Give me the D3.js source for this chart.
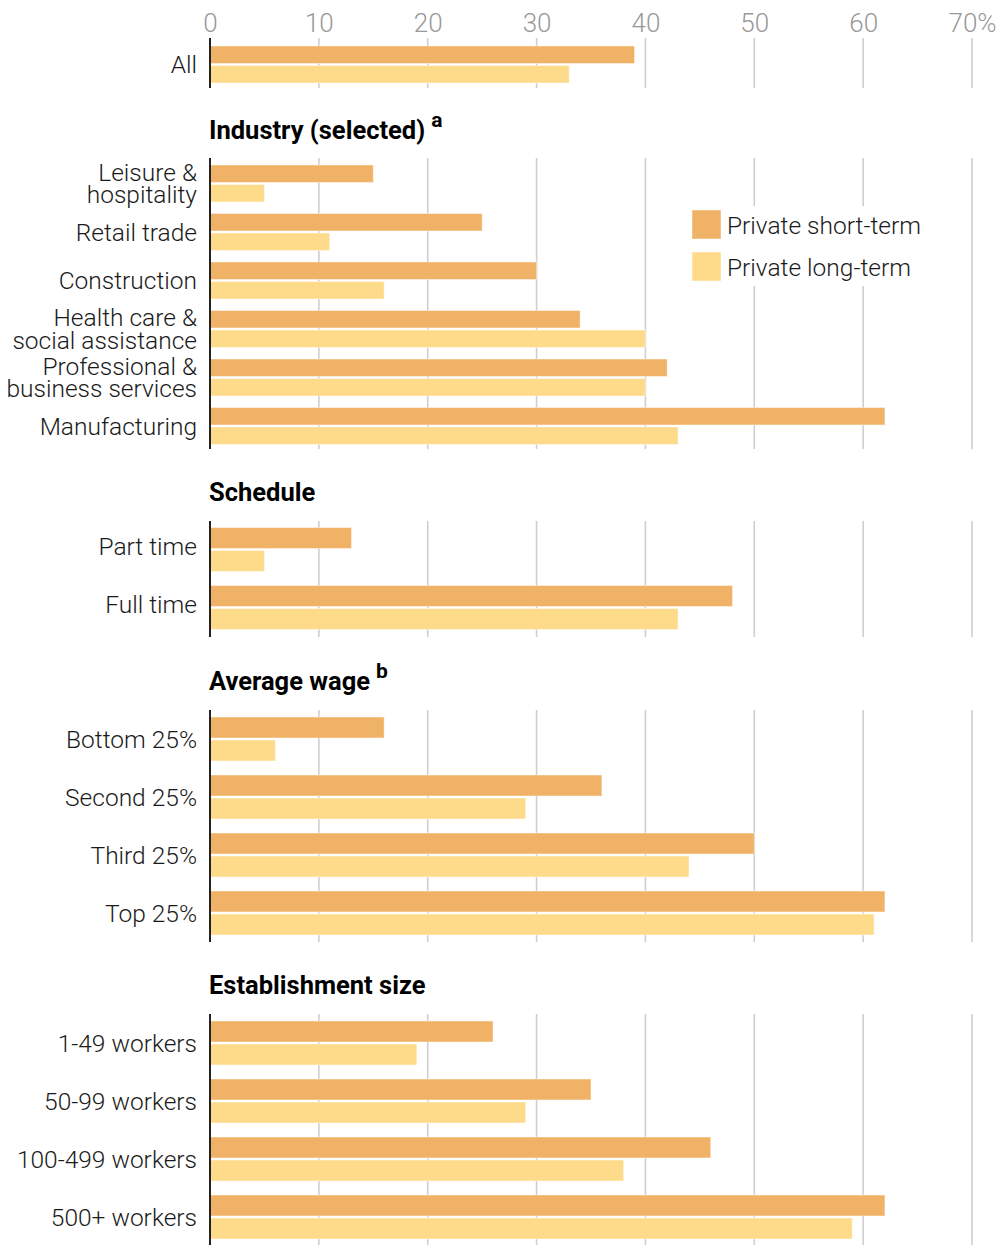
<!DOCTYPE html>
<html>
<head>
<meta charset="utf-8">
<script src="https://cdn.jsdelivr.net/npm/d3@7"></script>
<style>
  html, body { margin: 0; padding: 0; background: #fff; }
  svg { display: block; }
  .lbl { font-family: Roboto, sans-serif; font-weight: 300; fill: #1a1a1a; }
  .ttl { font-family: Roboto, sans-serif; font-weight: 700; fill: #000; }
  .tick text { font-family: Roboto, sans-serif; font-weight: 300; fill: #999; }
</style>
</head>
<body>
<svg id="chart" width="1000" height="1245"></svg>
<script>
// ---------------- data ----------------
const seriesNames = ["Private short-term", "Private long-term"];
const seriesColors = ["#f0b266", "#fedb8a"];

const tickValues = [0, 10, 20, 30, 40, 50, 60, 70];
const tickLabels = ["0", "10", "20", "30", "40", "50", "60", "70%"];

const allCategories = ["All"];
const allShort = [39];
const allLong = [33];

const industryTitle = "Industry (selected)";
const industryCategories = ["Leisure &\nhospitality", "Retail trade", "Construction",
  "Health care &\nsocial assistance", "Professional &\nbusiness services", "Manufacturing"];
const industryShort = [15, 25, 30, 34, 42, 62];
const industryLong = [5, 11, 16, 40, 40, 43];

const scheduleTitle = "Schedule";
const scheduleCategories = ["Part time", "Full time"];
const scheduleShort = [13, 48];
const scheduleLong = [5, 43];

const wageTitle = "Average wage";
const wageCategories = ["Bottom 25%", "Second 25%", "Third 25%", "Top 25%"];
const wageShort = [16, 36, 50, 62];
const wageLong = [6, 29, 44, 61];

const sizeTitle = "Establishment size";
const sizeCategories = ["1-49 workers", "50-99 workers", "100-499 workers", "500+ workers"];
const sizeShort = [26, 35, 46, 62];
const sizeLong = [19, 29, 38, 59];

// ---------------- layout ----------------
const svg = d3.select("#chart");
const x = d3.scaleLinear().domain([0, 70]).range([210, 972]);

const panels = [
  { title: null, sup: null, cats: allCategories, s: allShort, l: allLong, top: 38, step: 50, barH: 17.5, off: 8, titleY: null, lblShift: 0 },
  { title: industryTitle, sup: "a", cats: industryCategories, s: industryShort, l: industryLong, top: 158, step: 48.5, barH: 17.5, off: 7, titleY: 139, lblShift: 0 },
  { title: scheduleTitle, sup: null, cats: scheduleCategories, s: scheduleShort, l: scheduleLong, top: 521, step: 58, barH: 21, off: 6.5, titleY: 501, lblShift: -3 },
  { title: wageTitle, sup: "b", cats: wageCategories, s: wageShort, l: wageLong, top: 710, step: 58, barH: 21, off: 7, titleY: 690, lblShift: 0 },
  { title: sizeTitle, sup: null, cats: sizeCategories, s: sizeShort, l: sizeLong, top: 1014, step: 58, barH: 21, off: 7, titleY: 994, lblShift: 0 }
];

// top axis tick labels
const axis = d3.axisTop(x).tickValues(tickValues).tickSize(0).tickPadding(0)
  .tickFormat((d, i) => tickLabels[i]);
const axG = svg.append("g").attr("class", "axis").attr("transform", "translate(0,32)").call(axis);
axG.select(".domain").remove();
axG.selectAll(".tick text").attr("font-size", 26).attr("dy", 0);

panels.forEach(p => {
  const bottom = p.top + p.cats.length * p.step;
  const g = svg.append("g");

  // gridlines
  g.selectAll("line.grid").data(tickValues.slice(1)).join("line")
    .attr("class", "grid")
    .attr("x1", d => x(d)).attr("x2", d => x(d))
    .attr("y1", p.top).attr("y2", bottom)
    .attr("stroke", "#cfcfcf").attr("stroke-width", 1.6);

  const yBand = d3.scaleBand().domain(p.cats).range([p.top, bottom]).padding(0);
  const ySub = d3.scaleBand().domain(seriesNames)
    .range([p.off, p.off + 2 * p.barH + 2]).paddingInner(2 / (p.barH + 2)).paddingOuter(0);

  const rows = p.cats.map((c, i) => ({ c, vals: [p.s[i], p.l[i]] }));
  const rowG = g.selectAll("g.row").data(rows).join("g")
    .attr("class", "row")
    .attr("transform", d => `translate(0,${yBand(d.c)})`);

  rowG.selectAll("rect").data(d => d.vals.map((v, k) => ({ v, k }))).join("rect")
    .attr("x", x(0))
    .attr("y", d => ySub(seriesNames[d.k]))
    .attr("width", d => x(d.v) - x(0))
    .attr("height", ySub.bandwidth())
    .attr("fill", d => seriesColors[d.k])
    .attr("stroke", "rgba(255,255,255,0.45)").attr("stroke-width", 1);

  // category labels
  rowG.each(function (d) {
    const lines = d.c.split("\n");
    const cy = p.off + p.barH + 1 + p.lblShift;
    const lh = 22.5;
    const t = d3.select(this).append("text").attr("class", "lbl")
      .attr("font-size", 24.5).attr("text-anchor", "end");
    lines.forEach((ln, j) => {
      t.append("tspan").attr("x", 197)
        .attr("y", cy + (j - (lines.length - 1) / 2) * lh)
        .attr("dy", "0.35em").text(ln);
    });
  });

  // left axis line
  g.append("line").attr("x1", x(0)).attr("x2", x(0))
    .attr("y1", p.top).attr("y2", bottom)
    .attr("stroke", "#222").attr("stroke-width", 2);

  if (p.title) {
    const tt = svg.append("text").attr("class", "ttl").attr("x", 209).attr("y", p.titleY)
      .attr("font-size", 25.5).text(p.title);
    if (p.sup) {
      tt.append("tspan").attr("dx", 6).attr("dy", -12).attr("font-size", 21).text(p.sup);
    }
  }
});

// legend (inside Industry panel)
const lg = svg.append("g").attr("transform", "translate(692,210)");
lg.append("rect").attr("x", -8).attr("y", -4).attr("width", 240).attr("height", 80).attr("fill", "#fff");
seriesNames.forEach((n, i) => {
  lg.append("rect").attr("x", 0).attr("y", i * 42).attr("width", 29).attr("height", 29)
    .attr("fill", seriesColors[i]).attr("stroke", "rgba(255,255,255,0.45)");
  lg.append("text").attr("class", "lbl").attr("x", 35).attr("y", i * 42 + 15)
    .attr("dy", "0.35em").attr("font-size", 24.5).text(n);
});
</script>
</body>
</html>
